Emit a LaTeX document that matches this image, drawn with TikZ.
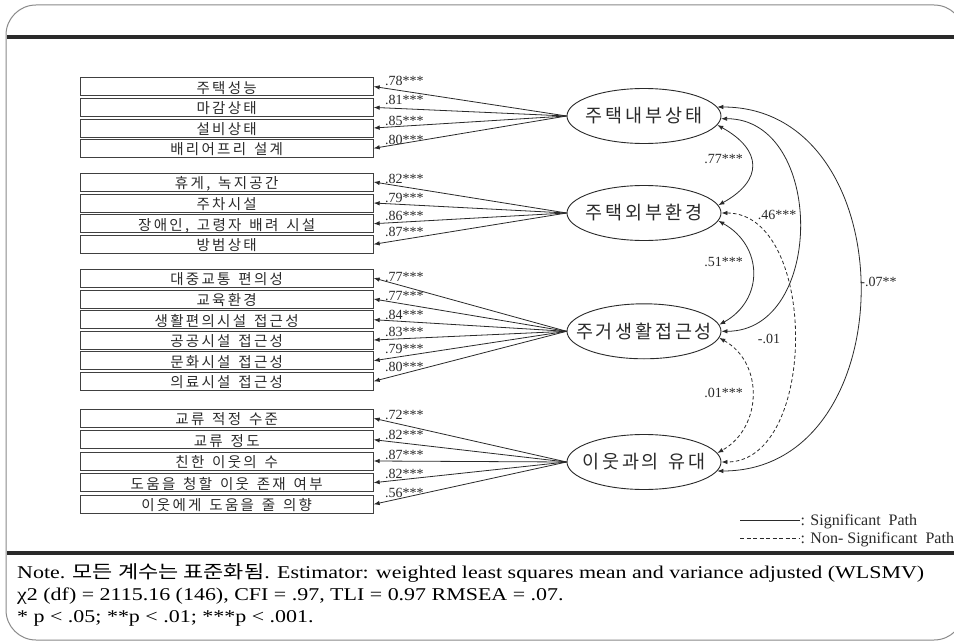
\documentclass[tikz,border=0pt]{standalone}
\usepackage{fontspec}
\setmainfont{Liberation Serif}
\newfontfamily\kr{Noto Sans CJK KR}
\newfontfamily\notefont[FakeStretch=1.22]{Liberation Serif}
\newfontfamily\krnote[FakeStretch=1.22]{Noto Sans CJK KR}
\usetikzlibrary{arrows.meta,shapes.geometric}
\definecolor{ink}{HTML}{2A2A2A}
\definecolor{boxc}{HTML}{404040}
\definecolor{framec}{HTML}{8A8A8A}
\makeatletter
\newlength\chsp
\newcommand\sptext[1]{\@tfor\@ch:=#1\do{\@ch\hskip\chsp}\unskip}
\newcommand\boxtext[1]{\sptext{#1}\hskip8pt}
\newcommand\lattext[1]{\makebox[0pt]{\sptext{#1}}}
\makeatother
\begin{document}
\begin{tikzpicture}[x=1pt,y=-1pt,
  ind/.style={draw=boxc, line width=0.9pt, minimum width=293pt, minimum height=18pt,
    inner sep=0pt, text height=14pt, text depth=1pt, text=ink,
    font=\kr\fontsize{14.5}{15}\selectfont\setlength\chsp{2.3pt}},
  lat/.style={draw=ink, line width=0.9pt, ellipse, minimum width=154pt, minimum height=55pt,
    inner sep=0pt, text=ink, font=\kr\fontsize{18.5}{19}\selectfont\setlength\chsp{2.8pt}},
  load/.style={draw=ink, line width=0.8pt, -{Latex[length=6pt,width=4.5pt]}},
  cov/.style={draw=ink, line width=0.8pt, {Latex[length=6pt,width=4.5pt]}-{Latex[length=6pt,width=4.5pt]}},
  ncov/.style={cov, dash pattern=on 3.5pt off 2.5pt},
  lab/.style={anchor=base west, inner sep=0pt, text=ink, font=\fontsize{14}{15}\selectfont},
  clab/.style={anchor=base, inner sep=0pt, text=ink, font=\fontsize{14}{15}\selectfont},
  leg/.style={anchor=base west, inner sep=0pt, text=ink, font=\fontsize{16}{18}\selectfont},
  note/.style={anchor=base west, inner sep=0pt, text=black, font=\notefont\fontsize{18}{20}\selectfont}
]
\useasboundingbox (0,0) rectangle (954,642);
\clip (0,0) rectangle (954,642);
\fill[white] (0,0) rectangle (954,642);
% frame
\draw[framec, line width=1pt, rounded corners=30pt] (6,5) rectangle (964,640);
\draw[ink, line width=4pt] (7,37.5) -- (954,37.5);
\draw[ink, line width=4pt] (7,553) -- (954,553);

% indicators
\node[ind] (i1) at (226.7,86.5) {\boxtext{주택성능}};
\node[ind] (i2) at (226.7,107.4) {\boxtext{마감상태}};
\node[ind] (i3) at (226.7,128) {\boxtext{설비상태}};
\node[ind] (i4) at (226.7,148.3) {\boxtext{배리어프리~설계}};
\node[ind] (i5) at (226.7,182) {\boxtext{휴게,~녹지공간}};
\node[ind] (i6) at (226.7,203) {\boxtext{주차시설}};
\node[ind] (i7) at (226.7,223.7) {\boxtext{장애인,~고령자~배려~시설}};
\node[ind] (i8) at (226.7,244.3) {\boxtext{방범상태}};
\node[ind] (i9) at (226.7,278) {\boxtext{대중교통~편의성}};
\node[ind] (i10) at (226.7,299) {\boxtext{교육환경}};
\node[ind] (i11) at (226.7,319.7) {\boxtext{생활편의시설~접근성}};
\node[ind] (i12) at (226.7,340) {\boxtext{공공시설~접근성}};
\node[ind] (i13) at (226.7,360.7) {\boxtext{문화시설~접근성}};
\node[ind] (i14) at (226.7,381.3) {\boxtext{의료시설~접근성}};
\node[ind] (i15) at (226.7,418.3) {\boxtext{교류~적정~수준}};
\node[ind] (i16) at (226.7,439.7) {\boxtext{교류~정도}};
\node[ind] (i17) at (226.7,461) {\boxtext{친한~이웃의~수}};
\node[ind] (i18) at (226.7,482.7) {\boxtext{도움을~청할~이웃~존재~여부}};
\node[ind] (i19) at (226.7,504.3) {\boxtext{이웃에게~도움을~줄~의향}};

% latent variables
\node[lat] (E1) at (644,116) {\lattext{주택내부상태}};
\node[lat] (E2) at (644,213) {\lattext{주택외부환경}};
\node[lat] (E3) at (644,331.3) {\lattext{주거생활접근성}};
\node[lat] (E4) at (644,462) {\lattext{이웃과의~유대}};

% loadings
\foreach \i in {1,...,4} {\draw[load] (E1.west) -- (i\i.east);}
\foreach \i in {5,...,8} {\draw[load] (E2.west) -- (i\i.east);}
\foreach \i in {9,...,14} {\draw[load] (E3.west) -- (i\i.east);}
\foreach \i in {15,...,19} {\draw[load] (E4.west) -- (i\i.east);}

\node[lab] (l1) at (385,85) {.78***};
\node[lab] (l2) at (385,105) {.81***};
\node[lab] (l3) at (385,125) {.85***};
\node[lab] (l4) at (385,144) {.80***};
\node[lab] (l5) at (385,183) {.82***};
\node[lab] (l6) at (385,202.7) {.79***};
\node[lab] (l7) at (385,220) {.86***};
\node[lab] (l8) at (385,236.7) {.87***};
\node[lab] (l9) at (385,281.7) {.77***};
\node[lab] (l10) at (385,300) {.77***};
\node[lab] (l11) at (385,319.3) {.84***};
\node[lab] (l12) at (385,336.7) {.83***};
\node[lab] (l13) at (385,353.3) {.79***};
\node[lab] (l14) at (385,371) {.80***};
\node[lab] (l15) at (385,419.3) {.72***};
\node[lab] (l16) at (385,439.3) {.82***};
\node[lab] (l17) at (385,459.3) {.87***};
\node[lab] (l18) at (385,478.3) {.82***};
\node[lab] (l19) at (385,497.3) {.56***};

% covariances
\draw[cov] (E1.7) .. controls +(190,0) and +(190,0) .. (E4.-7);
\draw[cov] (E1.-2) .. controls +(104,0) and +(104,0) .. (E3.0);
\draw[cov] (E1.-7) .. controls +(45,25) and +(45,-25) .. (E2.6);
\draw[cov] (E2.-6) .. controls +(45,25) and +(45,-25) .. (E3.5);
\draw[ncov] (E2.0) .. controls +(97,0) and +(97,0) .. (E4.0);
\draw[ncov] (E3.-5) .. controls +(45,25) and +(45,-25) .. (E4.7);

\node[clab] (c12) at (723.5,164) {.77***};
\node[clab] (c23) at (723.5,266) {.51***};
\node[clab] (c13) at (777,219) {.46***};
\node[clab] (c14) at (878.5,286) {-.07**};
\node[clab] (c24) at (769,343) {-.01};
\node[clab] (c34) at (723.5,397) {.01***};

% legend
\coordinate (s1) at (740,520);
\coordinate (s2) at (800,520);
\coordinate (n1) at (740,538);
\coordinate (n2) at (800,538);
\draw[ink, line width=0.8pt] (s1) -- (s2);
\draw[ink, line width=0.8pt, dash pattern=on 4pt off 2.5pt] (n1) -- (n2);
\node[leg] (t1) at (800.5,525) {: Significant\ \ Path};
\node[leg] (t2) at (800.5,543) {: Non- Significant\ \ Path};

% note
\node[note] (nt1) at (17,578) {Note. {\krnote 모든 계수는 표준화됨}. Estimator: weighted least squares mean and variance adjusted (WLSMV)};
\node[note] (nt2) at (17,600) {χ2 (df) = 2115.16 (146), CFI = .97, TLI = 0.97 RMSEA = .07.};
\node[note] (nt3) at (17,622) {* p < .05; **p < .01; ***p < .001.};
\end{tikzpicture}
\end{document}
